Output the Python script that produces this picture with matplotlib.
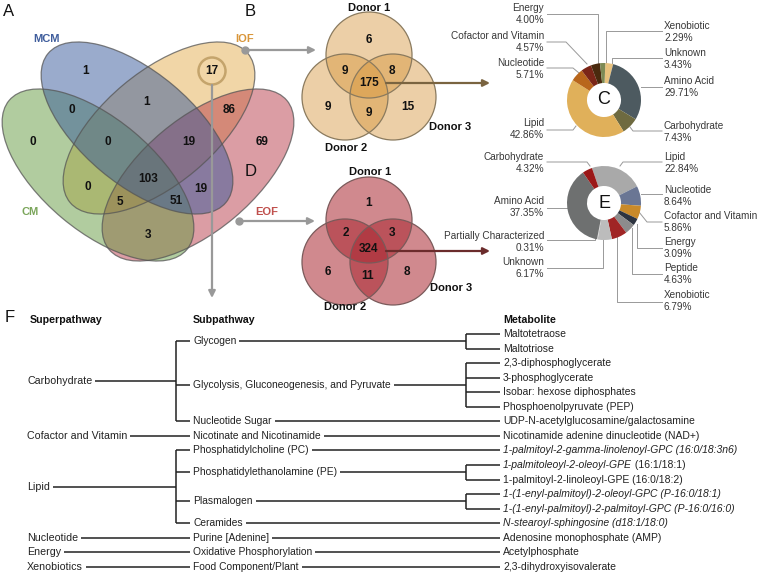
import matplotlib
matplotlib.use('Agg')
import matplotlib.pyplot as plt
from matplotlib.patches import Ellipse, Circle
import numpy as np

plt.rcParams['font.family'] = ['Liberation Sans', 'DejaVu Sans']

# ---------------- data ----------------
venn4_sets = ['MCM', 'IOF', 'CM', 'EOF']
venn4_colors = ['#37599b', '#e5af51', '#659b41', '#b93d4b']
venn4_label_colors = ['#3f5d9c', '#d9963a', '#7aa55a', '#c0504d']
venn4_draw_order = [1, 3, 2, 0]          # IOF, EOF, CM, MCM (bottom -> top)
venn4_counts = [1, 17, 0, 0, 1, 86, 69, 0, 19, 103, 0, 19, 5, 51, 3]

donor_labels = ['Donor 1', 'Donor 2', 'Donor 3']
venn_b_counts = [6, 9, 8, 175, 9, 15, 9]
venn_d_counts = [1, 2, 3, 324, 6, 11, 8]

c_labels = ['Unknown', 'Amino Acid', 'Carbohydrate', 'Lipid', 'Nucleotide',
            'Cofactor and Vitamin', 'Energy', 'Xenobiotic']
c_values = [3.43, 29.71, 7.43, 42.86, 5.71, 4.57, 4.00, 2.29]
c_colors = ['#e8c27e', '#4d5a60', '#6e6a40', '#e0b05a', '#b8661c',
            '#7b2618', '#4a2a0e', '#7d8a55']

e_labels = ['Lipid', 'Nucleotide', 'Cofactor and Vitamin', 'Energy', 'Peptide',
            'Xenobiotic', 'Unknown', 'Partially Characterized', 'Amino Acid',
            'Carbohydrate']
e_values = [22.84, 8.64, 5.86, 3.09, 4.63, 6.79, 6.17, 0.31, 37.35, 4.32]
e_colors = ['#a9a9a9', '#6a7694', '#c98a2a', '#2d3440', '#8c8c8c',
            '#a02525', '#bcbcbc', '#d4d4d4', '#6e7070', '#9b1818']

super_names = ['Carbohydrate', 'Cofactor and Vitamin', 'Lipid', 'Nucleotide',
               'Energy', 'Xenobiotics']
sub_names = ['Glycogen', 'Glycolysis, Gluconeogenesis, and Pyruvate',
             'Nucleotide Sugar', 'Nicotinate and Nicotinamide',
             'Phosphatidylcholine (PC)', 'Phosphatidylethanolamine (PE)',
             'Plasmalogen', 'Ceramides', 'Purine [Adenine]',
             'Oxidative Phosphorylation', 'Food Component/Plant']
sub_parent = [0, 0, 0, 1, 2, 2, 2, 2, 3, 4, 5]
metabolites = [
    [('Maltotetraose', 'normal')],
    [('Maltotriose', 'normal')],
    [('2,3-diphosphoglycerate', 'normal')],
    [('3-phosphoglycerate', 'normal')],
    [('Isobar: hexose diphosphates', 'normal')],
    [('Phosphoenolpyruvate (PEP)', 'normal')],
    [('UDP-N-acetylglucosamine/galactosamine', 'normal')],
    [('Nicotinamide adenine dinucleotide (NAD+)', 'normal')],
    [('1-palmitoyl-2-gamma-linolenoyl-GPC (16:0/18:3n6)', 'italic')],
    [('1-palmitoleoyl-2-oleoyl-GPE', 'italic'), (' (16:1/18:1)', 'normal')],
    [('1-palmitoyl-2-linoleoyl-GPE (16:0/18:2)', 'normal')],
    [('1-(1-enyl-palmitoyl)-2-oleoyl-GPC (P-16:0/18:1)', 'italic')],
    [('1-(1-enyl-palmitoyl)-2-palmitoyl-GPC (P-16:0/16:0)', 'italic')],
    [('N-stearoyl-sphingosine (d18:1/18:0)', 'italic')],
    [('Adenosine monophosphate (AMP)', 'normal')],
    [('Acetylphosphate', 'normal')],
    [('2,3-dihydroxyisovalerate', 'normal')],
]
met_parent = [0, 0, 1, 1, 1, 1, 2, 3, 4, 5, 5, 6, 6, 7, 8, 9, 10]

# ---------------- figure ----------------
W, H = 758, 573
fig = plt.figure(figsize=(W / 100, H / 100), dpi=100)
ax = fig.add_axes([0, 0, 1, 1])
ax.set_xlim(0, W)
ax.set_ylim(H, 0)
ax.axis('off')
renderer = fig.canvas.get_renderer()

def panel_letter(x, y, s):
    ax.text(x, y, s, fontsize=12, ha='left', va='center', color='#111111')

# ---------- Panel A: 4-set Venn ----------
panel_letter(3, 11, 'A')
ell_geom = [((137, 128), 40), ((159, 128), -40), ((98, 175), 40), ((198, 175), -40)]
ell_w, ell_h = 232, 112
for i in venn4_draw_order:
    c, ang = ell_geom[i]
    ax.add_patch(Ellipse(c, ell_w, ell_h, angle=ang, facecolor=venn4_colors[i],
                         alpha=0.5, edgecolor='none', zorder=1))
for (c, ang) in ell_geom:
    ax.add_patch(Ellipse(c, ell_w, ell_h, angle=ang, facecolor='none',
                         edgecolor='#555555', lw=0.9, alpha=0.75, zorder=2))
v4_pos = [(86, 71), (212, 71), (33, 142), (72, 110), (147, 102), (229, 110),
          (262, 142), (108, 142), (189, 142), (148, 179), (88, 187), (201, 189),
          (120, 202), (176, 201), (148, 235)]
for (x, y), n in zip(v4_pos, venn4_counts):
    ax.text(x, y, str(n), fontsize=8.5, fontweight='bold', ha='center',
            va='center', color='#111111', zorder=5)
v4_lab_pos = [(46, 39), (245, 39), (30, 212), (267, 212)]
for (x, y), s, col in zip(v4_lab_pos, venn4_sets, venn4_label_colors):
    ax.text(x, y, s, fontsize=8, fontweight='bold', ha='center', va='center',
            color=col)

# highlight ring on 17
ax.add_patch(Circle((212, 71), 13.5, facecolor='none', edgecolor='#c4a46c',
                    lw=1.8, zorder=4))
grey = '#999999'
arrow_kw = dict(arrowstyle='-|>', color=grey, lw=1.6, mutation_scale=10,
                shrinkA=0, shrinkB=0)
ax.annotate('', xy=(316, 50), xytext=(245, 50), arrowprops=arrow_kw, zorder=6)
ax.plot([245], [50], 'o', color=grey, ms=5, zorder=6)
ax.annotate('', xy=(315, 221), xytext=(239, 221), arrowprops=arrow_kw, zorder=6)
ax.plot([239], [221], 'o', color=grey, ms=5, zorder=6)
ax.annotate('', xy=(212, 298), xytext=(212, 85), arrowprops=arrow_kw, zorder=6)

# ---------- Panels B and D: 3-set Venns ----------
def venn3(cy, counts, base_col, edge_col, alpha, lab_pos, num_pos, arrow_col,
          arrow_y):
    centers = [(369, cy), (345, cy + 42), (393, cy + 42)]
    for c in centers:
        ax.add_patch(Circle(c, 43, facecolor=base_col, alpha=alpha,
                            edgecolor='none', zorder=1))
    for c in centers:
        ax.add_patch(Circle(c, 43, facecolor='none', edgecolor=edge_col,
                            lw=0.9, zorder=2))
    for (x, y), n in zip(num_pos, counts):
        ax.text(x, y, str(n), fontsize=8.5, fontweight='bold', ha='center',
                va='center', color='#111111', zorder=5)
    for (x, y), s in zip(lab_pos, donor_labels):
        ax.text(x, y, s, fontsize=8, fontweight='bold', ha='center',
                va='center', color='#111111')
    ax.annotate('', xy=(490, arrow_y), xytext=(386, arrow_y),
                arrowprops=dict(arrowstyle='-|>', color=arrow_col, lw=1.6,
                                mutation_scale=10, shrinkA=0, shrinkB=0),
                zorder=6)

panel_letter(245, 11, 'B')
venn3(55, venn_b_counts, '#d7963c', '#8a7a5e', 0.45,
      [(369, 8), (346, 148), (450, 127)],
      [(369, 40), (345, 71), (392, 71), (369, 83), (328, 107), (408, 107),
       (369, 113)], '#7a6440', 83)

panel_letter(245, 172, 'D')
venn3(220, venn_d_counts, '#aa2832', '#7a5a5a', 0.55,
      [(370, 172), (345, 307), (451, 288)],
      [(369, 203), (346, 233), (392, 233), (369, 249), (328, 272), (368, 276),
       (407, 272)], '#6b2c2c', 251)

# ---------- Panels C and E: donuts ----------
def donut(cx, cy, r, vals, cols, start, letter):
    dax = fig.add_axes([(cx - r) / W, (H - cy - r) / H, 2 * r / W, 2 * r / H])
    dax.pie(vals, colors=cols, startangle=start, counterclock=False,
            radius=1.0, wedgeprops=dict(width=0.54, edgecolor='none'))
    dax.set_xlim(-1, 1)
    dax.set_ylim(-1, 1)
    dax.set_aspect('equal')
    dax.axis('off')
    dax.text(0, 0, letter, fontsize=13, ha='center', va='center',
             color='#111111')

donut(604, 100, 37, c_values, c_colors, 88, 'C')
donut(604, 203, 37, e_values, e_colors, 109, 'E')

lab_col = '#383838'
lead_col = '#999999'

def pie_label(name, val, pos, side, path):
    x, y = pos
    ha = 'right' if side == 'L' else 'left'
    ax.text(x, y, f'{name}\n{val:.2f}%', fontsize=7.2, ha=ha, va='center',
            multialignment=ha, color=lab_col, linespacing=1.2)
    xs, ys = zip(*path)
    ax.plot(xs, ys, color=lead_col, lw=0.7, zorder=3)

c_layout = {
    'Energy': ((544, 14), 'L', [(547, 14), (598, 14), (598, 63)]),
    'Cofactor and Vitamin': ((544, 42), 'L', [(547, 42), (566, 42), (587, 64)]),
    'Nucleotide': ((544, 69), 'L', [(547, 68), (573, 68), (579, 73)]),
    'Lipid': ((544, 129), 'L', [(547, 130), (573, 130), (576, 126)]),
    'Xenobiotic': ((664, 32), 'R', [(662, 31), (606, 31), (606, 63)]),
    'Unknown': ((664, 59), 'R', [(662, 58), (612, 58), (612, 64)]),
    'Amino Acid': ((664, 87), 'R', [(662, 87), (641, 87)]),
    'Carbohydrate': ((664, 132), 'R', [(662, 131), (633, 131), (630, 127)]),
}
for name, val in zip(c_labels, c_values):
    pos, side, path = c_layout[name]
    pie_label(name, val, pos, side, path)

e_layout = {
    'Carbohydrate': ((544, 163), 'L', [(547, 162), (587, 162), (590, 166)]),
    'Amino Acid': ((544, 207), 'L', [(547, 208), (567, 208)]),
    'Partially Characterized': ((544, 242), 'L', [(547, 240), (595, 240), (595, 238)]),
    'Unknown': ((544, 268), 'L', [(547, 268), (603, 268), (603, 239)]),
    'Lipid': ((664, 163), 'R', [(662, 162), (623, 162), (620, 166)]),
    'Nucleotide': ((664, 196), 'R', [(662, 194), (641, 194)]),
    'Cofactor and Vitamin': ((664, 222), 'R', [(662, 222), (647, 222), (639, 212)]),
    'Energy': ((664, 248), 'R', [(662, 248), (637, 248), (637, 224)]),
    'Peptide': ((664, 274), 'R', [(662, 274), (632, 274), (632, 228)]),
    'Xenobiotic': ((664, 301), 'R', [(662, 302), (617, 302), (617, 236)]),
}
for name, val in zip(e_labels, e_values):
    pos, side, path = e_layout[name]
    pie_label(name, val, pos, side, path)

# ---------- Panel F: tree ----------
panel_letter(5, 318, 'F')
fs_head, fs_super, fs_sub, fs_met = 7.7, 7.7, 7.4, 7.5
tree_col = '#222222'
x_super, x_sub, x_met = 27, 193, 503
br1, br2 = 176, 466
gap = 3
y0, dy = 334, 14.56
met_y = [y0 + i * dy for i in range(len(metabolites))]
sub_y = [np.mean([met_y[i] for i, p in enumerate(met_parent) if p == s])
         for s in range(len(sub_names))]
super_y = []
for k in range(len(super_names)):
    ys = [sub_y[s] for s, p in enumerate(sub_parent) if p == k]
    super_y.append((min(ys) + max(ys)) / 2)

for x, s in [(30, 'Superpathway'), (x_sub, 'Subpathway'), (x_met, 'Metabolite')]:
    ax.text(x, 320, s, fontsize=fs_head, fontweight='bold', ha='left',
            va='center', color='#111111')

def text_right(t):
    bb = t.get_window_extent(renderer)
    return ax.transData.inverted().transform((bb.x1, bb.y0))[0]

def hline(x0, x1, y):
    ax.plot([x0, x1], [y, y], color=tree_col, lw=1.1, solid_capstyle='butt')

def vline(x, y0_, y1_):
    ax.plot([x, x], [y0_, y1_], color=tree_col, lw=1.1, solid_capstyle='butt')

# metabolites
for y, parts in zip(met_y, metabolites):
    prev = None
    for txt, style in parts:
        if prev is None:
            prev = ax.text(x_met, y, txt, fontsize=fs_met, style=style,
                           ha='left', va='center', color=tree_col)
        else:
            prev = ax.annotate(txt, xy=(1, 0), xycoords=prev, fontsize=fs_met,
                               style=style, ha='left', va='bottom',
                               color=tree_col)

# subpathways
for s, (name, y) in enumerate(zip(sub_names, sub_y)):
    t = ax.text(x_sub, y, name, fontsize=fs_sub, ha='left', va='center',
                color=tree_col)
    kids = [met_y[i] for i, p in enumerate(met_parent) if p == s]
    xe = text_right(t) + gap
    if len(kids) > 1:
        hline(xe, br2, y)
        vline(br2, min(kids), max(kids))
        for ky in kids:
            hline(br2, x_met - gap, ky)
    else:
        hline(xe, x_met - gap, y)

# superpathways
for k, (name, y) in enumerate(zip(super_names, super_y)):
    t = ax.text(x_super, y, name, fontsize=fs_super, ha='left', va='center',
                color=tree_col)
    kids = [sub_y[s] for s, p in enumerate(sub_parent) if p == k]
    xe = text_right(t) + gap
    if len(kids) > 1:
        hline(xe, br1, y)
        vline(br1, min(kids), max(kids))
        for ky in kids:
            hline(br1, x_sub - gap, ky)
    else:
        hline(xe, x_sub - gap, y)

fig.savefig('out.png', dpi=100)
